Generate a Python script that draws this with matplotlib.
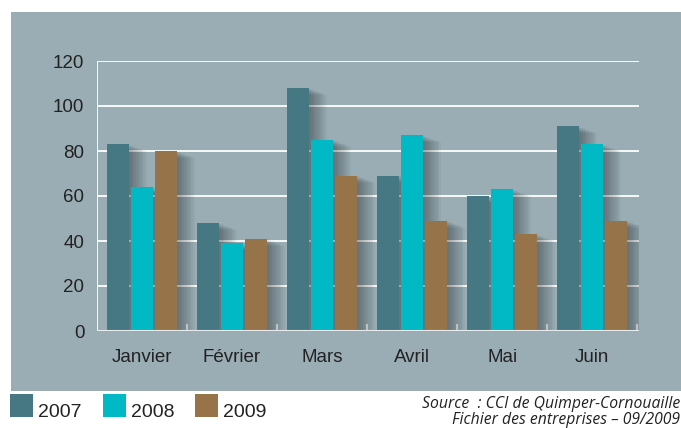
import numpy as np
import matplotlib
matplotlib.use('Agg')
import matplotlib.pyplot as plt
from matplotlib.patches import Rectangle

plt.rcParams['font.family'] = ['Liberation Sans', 'DejaVu Sans']

mois = ['Janvier', 'Février', 'Mars', 'Avril', 'Mai', 'Juin']
annees = ['2007', '2008', '2009']
v2007 = [83, 48, 108, 69, 60, 91]
v2008 = [64, 39, 85, 87, 63, 83]
v2009 = [80, 41, 69, 49, 43, 49]
yticks = [0, 20, 40, 60, 80, 100, 120]

couleurs = ['#467884', '#00B9C5', '#967349']
fond = '#9AADB5'
texte = '#222222'

W, H = 681, 428
fig = plt.figure(figsize=(W / 100, H / 100), dpi=100)
fig.patch.set_facecolor('white')

# grey panel
fig.patches.append(Rectangle((11 / W, (H - 391) / H), 670 / W, 379 / H,
                             transform=fig.transFigure, facecolor=fond,
                             edgecolor='none', zorder=0))

ax = fig.add_axes([97 / W, (H - 331) / H, 542 / W, 270 / H])
ax.set_zorder(2)
ax.set_facecolor('none')
ax.set_xlim(-0.5, 5.52)
ax.set_ylim(0, 120)

x = np.arange(len(mois))
w = 0.244
dx = 0.267
series = [v2007, v2008, v2009]

# grid
for t in yticks[1:]:
    ax.axhline(t, color='white', lw=1.3, zorder=1)
ax.axvline(-0.5, color='white', lw=1.3, zorder=1)
ax.axhline(0, color='#E6EAEC', lw=1.5, zorder=4)

# soft shadows
for k in range(1, 11):
    for i, vals in enumerate(series):
        ax.bar(x + (i - 1) * dx + k * 0.02, np.array(vals) - k * 0.3, w,
               color='black', alpha=0.035, linewidth=0, zorder=2)

for i, vals in enumerate(series):
    ax.bar(x + (i - 1) * dx, vals, w, color=couleurs[i], linewidth=0, zorder=3)

for s in ax.spines.values():
    s.set_visible(False)
ax.set_yticks(yticks)
ax.set_xticks(x)
ax.set_xticklabels(mois)
ax.set_xticks(np.arange(0.5, 5.6, 1.0), minor=True)
ax.tick_params(axis='both', which='major', length=0, labelsize=13.5,
               labelcolor=texte)
ax.tick_params(axis='y', pad=9)
ax.tick_params(axis='x', pad=13)
ax.tick_params(axis='x', which='minor', direction='in', length=5,
               width=1.5, color='#E6EAEC')

# legend
lx = [10, 103, 195]
for i, a in enumerate(annees):
    fig.patches.append(Rectangle((lx[i] / W, (H - 417) / H), 23 / W, 23 / H,
                                 transform=fig.transFigure,
                                 facecolor=couleurs[i], edgecolor='none'))
    fig.text((lx[i] + 28) / W, (H - 417) / H, a, fontsize=14, color=texte,
             ha='left', va='baseline')

fig.text(680 / W, (H - 408) / H, 'Source  : CCI de Quimper-Cornouaille',
         fontsize=11.3, style='italic', color=texte, ha='right', va='baseline',
         family=['Open Sans', 'DejaVu Sans'])
fig.text(680 / W, (H - 424) / H, 'Fichier des entreprises – 09/2009',
         fontsize=11.3, style='italic', color=texte, ha='right', va='baseline',
         family=['Open Sans', 'DejaVu Sans'])

fig.savefig('out.png', dpi=100)
